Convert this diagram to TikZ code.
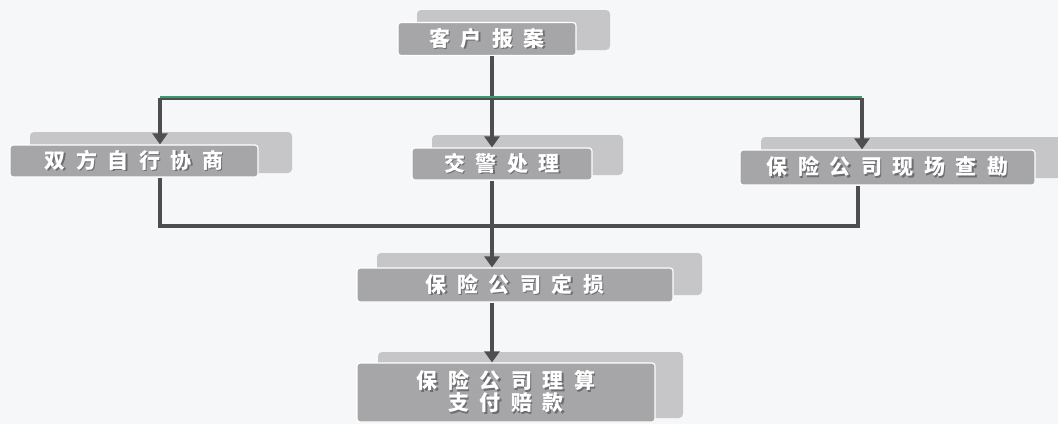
\documentclass[tikz,border=0pt]{standalone}
\usepackage{fontspec}
\newfontfamily\cjk{Noto Sans CJK SC}
\usetikzlibrary{arrows.meta}
\definecolor{bgc}{HTML}{F6F7F9}
\definecolor{frontc}{HTML}{A6A6A9}
\definecolor{backc}{HTML}{C6C6C9}
\definecolor{linec}{HTML}{4E4E50}
\definecolor{greenc}{HTML}{3C9A6E}
\definecolor{txtsh}{HTML}{6E6E72}
\newcommand\gp{\kern 10.5pt}
\newcommand\sh[1]{\makebox[0pt][l]{\kern1.3pt\raisebox{-1.3pt}{\textcolor{txtsh}{#1}}}\textcolor{white}{#1}}
\tikzset{
  frontbox/.style={draw=white, line width=1.2pt, fill=frontc, rounded corners=3pt, inner sep=0pt,
    font=\cjk\bfseries\fontsize{21}{25}\selectfont, align=center},
  backbox/.style={draw=none, fill=backc, rounded corners=4pt, inner sep=0pt},
  conn/.style={draw=linec, line width=3.5pt},
  arr/.style={conn, -{Triangle[width=15pt,length=11pt]}},
}
\begin{document}
\begin{tikzpicture}[x=1pt,y=-1pt]
\fill[bgc] (0,0) rectangle (1058,424);
\useasboundingbox (0,0) rectangle (1058,424);
% back (shadow) boxes
\node[backbox, minimum width=193pt, minimum height=40pt] (topb) at (513.5,30) {};
\node[backbox, minimum width=262pt, minimum height=41pt] (leftb) at (161,152.5) {};
\node[backbox, minimum width=191pt, minimum height=40pt] (midb) at (527.5,155) {};
\node[backbox, minimum width=300pt, minimum height=41pt] (rightb) at (911,157.5) {};
\node[backbox, minimum width=325pt, minimum height=42pt] (lossb) at (539.5,274) {};
\node[backbox, minimum width=305pt, minimum height=66pt] (payb) at (530.5,385) {};
% front boxes
\node[frontbox, minimum width=178pt, minimum height=33pt] (top) at (487,39) {\sh{客\gp{}户\gp{}报\gp{}案}};
\node[frontbox, minimum width=248pt, minimum height=32pt] (left) at (134,161) {\sh{双\gp{}方\gp{}自\gp{}行\gp{}协\gp{}商}};
\node[frontbox, minimum width=180pt, minimum height=32pt] (mid) at (502,164) {\sh{交\gp{}警\gp{}处\gp{}理}};
\node[frontbox, minimum width=295pt, minimum height=35pt] (right) at (887.5,167.5) {\sh{保\gp{}险\gp{}公\gp{}司\gp{}现\gp{}场\gp{}查\gp{}勘}};
\node[frontbox, minimum width=316pt, minimum height=34pt] (loss) at (515,285) {\sh{保\gp{}险\gp{}公\gp{}司\gp{}定\gp{}损}};
\node[frontbox, minimum width=298pt, minimum height=59pt] (pay) at (506,392.5) {\sh{保\gp{}险\gp{}公\gp{}司\gp{}理\gp{}算}\\[-3pt]\sh{支\gp{}付\gp{}赔\gp{}款}};
% junction coordinates
\coordinate (j1) at (492,98);
\coordinate (jl) at (160,98);
\coordinate (jr) at (862,98);
\coordinate (k1) at (492,226);
\coordinate (kl) at (160,226);
\coordinate (kr) at (858,226);
% top distribution
\draw[conn] (top.south -| j1) -- (j1);
\draw[conn] (jl) -- (jr);
\draw[draw=greenc, line width=1.4pt] ([yshift=1pt]jl) -- ([yshift=1pt]jr);
\draw[arr] (jl) -- (left.north -| jl);
\draw[arr] (j1) -- (mid.north -| j1);
\draw[arr] (jr) -- (right.north -| jr);
% collection
\draw[conn] (left.south -| kl) -- (kl) -- (kr) -- (right.south -| kr);
\draw[arr] (mid.south -| k1) -- (loss.north -| k1);
\draw[arr] (loss.south -| k1) -- (pay.north -| k1);
\end{tikzpicture}
\end{document}
